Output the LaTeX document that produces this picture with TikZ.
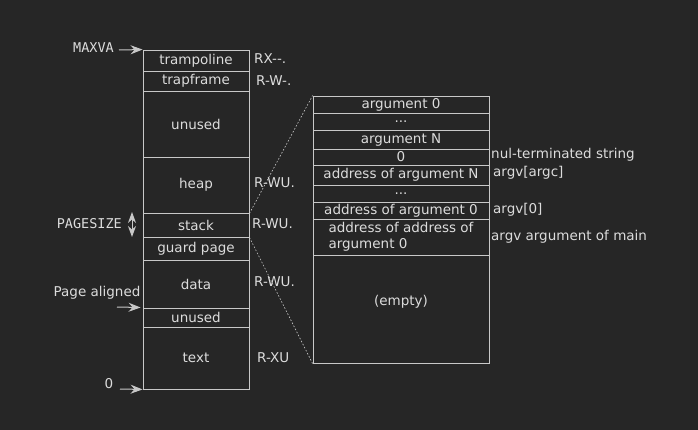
\documentclass[tikz,border=0pt]{standalone}
\usepackage{fontspec}
\setmainfont{DejaVu Sans}
\setmonofont{DejaVu Sans Mono}
\usetikzlibrary{arrows.meta}
\definecolor{bg}{HTML}{262626}
\definecolor{ln}{HTML}{C8C8C8}
\definecolor{tx}{HTML}{DCDCDC}
\begin{document}
\begin{tikzpicture}[x=1pt,y=-1pt,
  base/.style={text=tx, inner sep=0pt, font=\fontsize{13.5}{16}\selectfont},
  lcell/.style={base, draw=ln, line width=0.9pt, minimum width=106pt},
  rcell/.style={base, draw=ln, line width=0.9pt, minimum width=176pt},
  perm/.style={base, anchor=west},
  note/.style={base, anchor=west},
  mono/.style={base, font=\ttfamily\fontsize{13.5}{16}\selectfont},
  arr/.style={draw=ln, line width=1pt, -{Stealth[length=12pt,width=9pt,inset=4pt]}},
  dbl/.style={draw=ln, line width=1pt, {Stealth[length=11pt,width=8pt,inset=3.5pt]}-{Stealth[length=11pt,width=8pt,inset=3.5pt]}},
  dots/.style={draw=ln, line width=0.6pt, dash pattern=on 1.6pt off 1.8pt}
]
\fill[bg] (0,0) rectangle (698,430);
\useasboundingbox (0,0) rectangle (698,430);

% left column
\node[lcell, minimum height=21pt] (tramp) at (196,60.5) {trampoline};
\node[lcell, minimum height=20pt] (trapf) at (196,81) {trapframe};
\node[lcell, minimum height=66pt] (unused) at (196,124) {unused};
\node[lcell, minimum height=56pt] (heap) at (196,185) {heap};
\node[lcell, minimum height=24pt] (stack) at (196,225) {stack};
\node[lcell, minimum height=23pt] (guard) at (196,248.5) {guard page};
\node[lcell, minimum height=48pt] (data) at (196,284) {data};
\node[lcell, minimum height=19pt] (unusedb) at (196,317.5) {unused};
\node[lcell, minimum height=62pt] (text) at (196,358) {text};

% permissions
\node[perm] (p1) at (254,59) {RX-{}-.};
\node[perm] (p2) at (256,81) {R-W-.};
\node[perm] (p3) at (254,183) {R-WU.};
\node[perm] (p4) at (252,224) {R-WU.};
\node[perm] (p5) at (254,282) {R-WU.};
\node[perm] (p6) at (257,358) {R-XU};

% left labels
\node[mono, anchor=east] (maxva) at (114,48) {MAXVA};
\coordinate (maxvaS) at (119,50);
\draw[arr] (maxvaS) -- (tramp.north west);
\node[mono, anchor=east] (pgsz) at (122,224) {PAGESIZE};
\coordinate (psT) at (132,212);
\coordinate (psB) at (132,237);
\draw[dbl] (psT) -- (psB);
\node[base] (palign) at (97,293) {Page aligned};
\coordinate (palS) at (117,307);
\draw[arr, shorten >=2pt] (palS) -- (unusedb.north west);
\node[base] (zero) at (109,384) {0};
\coordinate (zeroS) at (120,389);
\draw[arr] (zeroS) -- (text.south west);

% right column
\node[rcell, minimum height=17pt] (arg0) at (401,104.5) {argument 0};
\node[rcell, minimum height=17pt] (dotsa) at (401,121.5) {...};
\node[rcell, minimum height=19pt] (argN) at (401,139.5) {argument N};
\node[rcell, minimum height=16pt] (nul) at (401,157) {0};
\node[rcell, minimum height=20pt] (addrN) at (401,175) {address of argument N};
\node[rcell, minimum height=17pt] (dotsb) at (401,193.5) {...};
\node[rcell, minimum height=17pt] (addr0) at (401,210.5) {address of argument 0};
\node[rcell, minimum height=36pt, align=left] (addraddr) at (401,237) {address of address of\\ argument 0};
\node[rcell, minimum height=108pt, text depth=17pt] (empty) at (401,309) {(empty)};

% right notes
\node[note] (n1) at (491,155) {nul-terminated string};
\node[note] (n2) at (493,173) {argv[argc]};
\node[note] (n3) at (493,210) {argv[0]};
\node[note] (n4) at (491,237) {argv argument of main};

% zoom lines
\draw[dots] (heap.south east) -- (arg0.north west);
\draw[dots] (stack.south east) -- (empty.south west);
\end{tikzpicture}
\end{document}
